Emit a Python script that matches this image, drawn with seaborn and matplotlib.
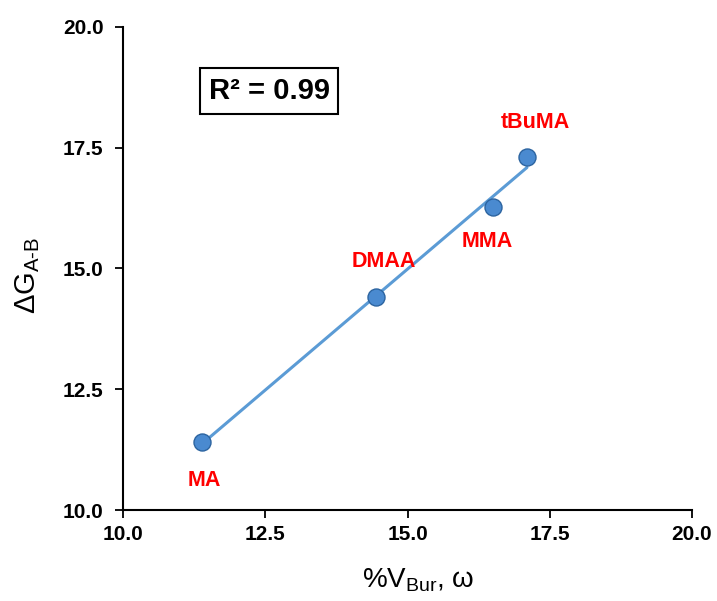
import numpy as np
import pandas as pd
import matplotlib
matplotlib.use("Agg")
import matplotlib.pyplot as plt
import seaborn as sns

# data
monomers = ["MA", "DMAA", "MMA", "tBuMA"]
vbur = [11.38, 14.45, 16.50, 17.10]
dg_ab = [11.40, 14.40, 16.28, 17.30]
x_ticks = [10.0, 12.5, 15.0, 17.5, 20.0]
y_ticks = [10.0, 12.5, 15.0, 17.5, 20.0]
r2_text = "R² = 0.99"

# label offsets (data units) relative to each point
label_dx = [0.05, 0.14, -0.1, 0.15]
label_dy = [-0.78, 0.75, -0.72, 0.72]

df = pd.DataFrame({"monomer": monomers, "vbur": vbur, "dg": dg_ab})

sns.set_theme(style="white")
plt.rcParams['font.family'] = ['Liberation Sans', 'DejaVu Sans']
plt.rcParams['mathtext.fontset'] = 'custom'
plt.rcParams['mathtext.rm'] = 'Liberation Sans'
plt.rcParams['mathtext.it'] = 'Liberation Sans:italic'
plt.rcParams['text.color'] = 'black'
plt.rcParams['axes.labelcolor'] = 'black'
plt.rcParams['xtick.color'] = 'black'
plt.rcParams['ytick.color'] = 'black'

fig = plt.figure(figsize=(7.17, 6.01), dpi=100)
ax = fig.add_axes([123 / 717, 1 - 510 / 601, (692 - 123) / 717, (510 - 27) / 601])

# linear fit across the data range
k, b = np.polyfit(df["vbur"], df["dg"], 1)
xs = np.array([df["vbur"].min(), df["vbur"].max()])
sns.lineplot(x=xs, y=k * xs + b, ax=ax, color="#5b9bd5", linewidth=2.2, zorder=2)

sns.scatterplot(data=df, x="vbur", y="dg", ax=ax, s=150, color="#4a8ad0",
                edgecolor="#2c64a0", linewidth=1.0, zorder=3)

for i, row in df.iterrows():
    ax.text(row["vbur"] + label_dx[i], row["dg"] + label_dy[i], row["monomer"],
            color="#ff0000", fontsize=15.5, fontweight="bold", ha="center", va="center")

ax.text(0.257, 0.867, r2_text, transform=ax.transAxes, fontsize=21, fontweight="bold",
        ha="center", va="center",
        bbox=dict(boxstyle="square,pad=0.3", facecolor="white", edgecolor="black", linewidth=1.5))

ax.set_xlim(10, 20)
ax.set_ylim(10, 20)
ax.set_xticks(x_ticks)
ax.set_yticks(y_ticks)
ax.set_xticklabels([f"{t:.1f}" for t in x_ticks], fontsize=15, fontweight="bold")
ax.set_yticklabels([f"{t:.1f}" for t in y_ticks], fontsize=15, fontweight="bold")
ax.tick_params(axis="both", direction="out", length=6, width=1.3, color="black",
               bottom=True, left=True)
ax.tick_params(axis="y", pad=8)
ax.tick_params(axis="x", pad=5)

for side in ["top", "right"]:
    ax.spines[side].set_visible(False)
for side in ["left", "bottom"]:
    ax.spines[side].set_color("black")
    ax.spines[side].set_linewidth(1.5)

ax.set_xlabel(r"%V$_{\mathrm{Bur}}$, ω", fontsize=20)
ax.set_ylabel(r"$\Delta$G$_{\mathrm{A\text{-}B}}$", fontsize=21)
ax.xaxis.set_label_coords(0.518, -0.118)
ax.yaxis.set_label_coords(-0.142, 0.485)

fig.savefig("out.png", dpi=100)
